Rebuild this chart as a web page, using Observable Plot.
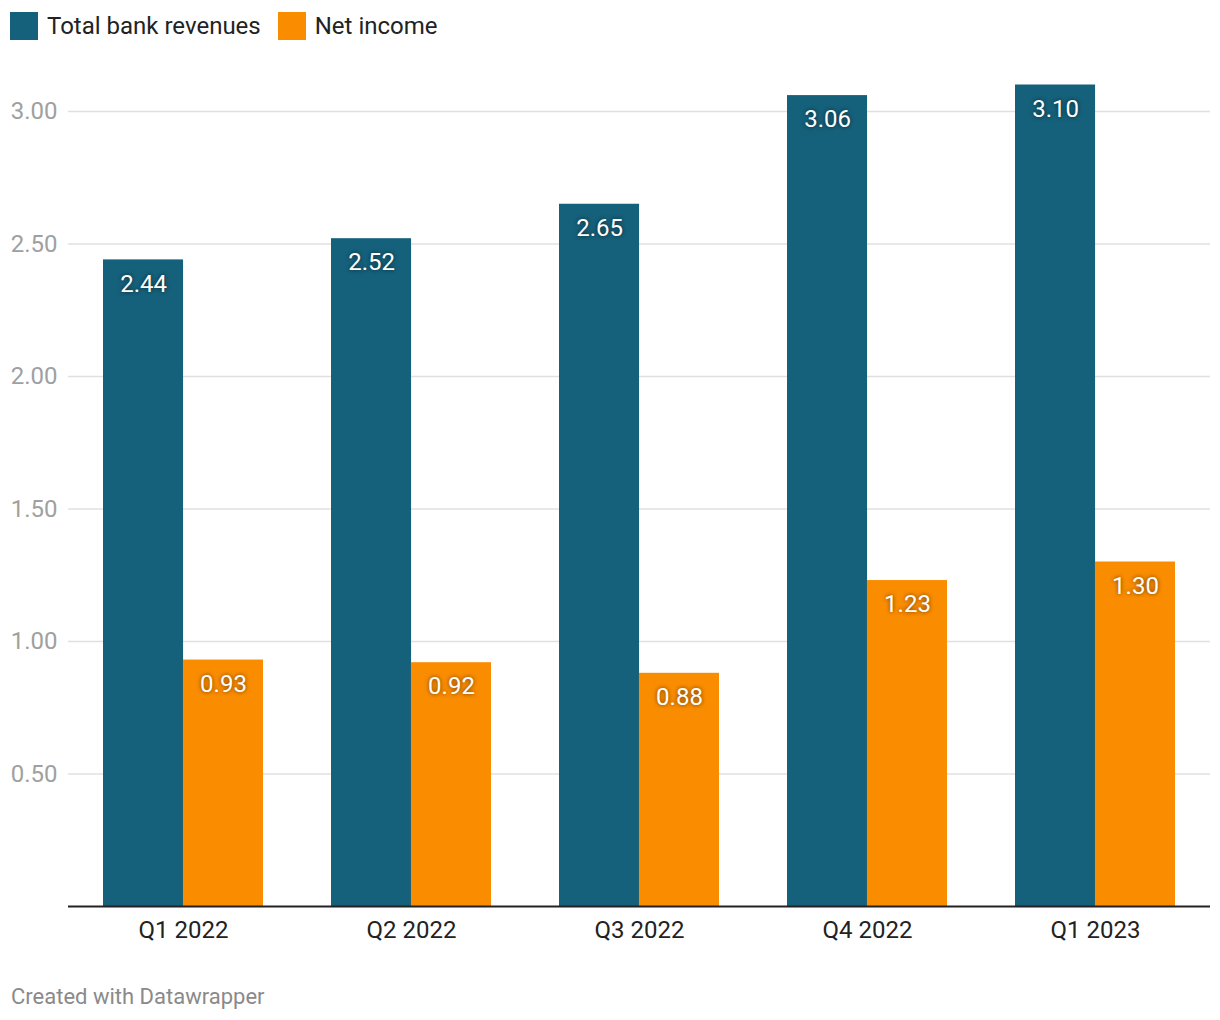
<!DOCTYPE html>
<html><head><meta charset="utf-8">
<script src="https://cdn.jsdelivr.net/npm/d3@7"></script>
<script src="https://cdn.jsdelivr.net/npm/@observablehq/plot@0.6"></script>
<style>
body{margin:0;background:#fff;font-family:Roboto,sans-serif;}
#wrap{position:relative;width:1220px;height:1020px;overflow:hidden;}
#legend{position:absolute;left:10px;top:12px;display:flex;align-items:center;font-size:24px;color:#222;line-height:28px;}
.sw{width:28px;height:28px;display:inline-block;margin-right:9px;}
.item{display:flex;align-items:center;margin-right:17px;}
#chart{position:absolute;left:0;top:50px;}
#footer{position:absolute;left:11px;top:984px;font-size:22px;line-height:26px;color:#8a8a8a;}
g[fill="white"] text{ text-shadow: 0 0 4px rgba(0,0,0,0.6); }
</style></head>
<body><div id="wrap"><div id="legend"></div><div id="chart"></div><div id="footer">Created with Datawrapper</div></div>
<script>
const quarters = ["Q1 2022","Q2 2022","Q3 2022","Q4 2022","Q1 2023"];
const revenues = [2.44, 2.52, 2.65, 3.06, 3.10];
const netIncome = [0.93, 0.92, 0.88, 1.23, 1.30];
const seriesNames = ["Total bank revenues","Net income"];
const seriesColors = ["#15607a","#fa8c00"];
const yTicks = [0.5, 1.0, 1.5, 2.0, 2.5, 3.0];

const revData = quarters.map((q,i)=>({quarter:q, value:revenues[i]}));
const netData = quarters.map((q,i)=>({quarter:q, value:netIncome[i]}));

// legend
const leg = document.getElementById("legend");
seriesNames.forEach((n,i)=>{
  const it = document.createElement("div"); it.className="item";
  it.innerHTML = `<span class="sw" style="background:${seriesColors[i]}"></span><span>${n}</span>`;
  leg.appendChild(it);
});

const W = 1220, mL = 68, mR = 10;
const pInner = 0.3, pOuter = 0.15;
const step = (W - mL - mR) / (quarters.length - pInner + 2*pOuter);
const half = step * (1 - pInner) / 2;

const chart = Plot.plot({
  width: W, height: 900,
  marginLeft: mL, marginRight: mR, marginTop: 0, marginBottom: 44,
  style: {fontFamily: "Roboto, sans-serif", background: "#fff"},
  x: {domain: quarters, paddingInner: pInner, paddingOuter: pOuter, label: null},
  y: {domain: [0, 3], range: [856, 61], label: null},
  marks: [
    Plot.gridY(yTicks, {stroke: "#e0e0e0", strokeOpacity: 1, strokeWidth: 1.5}),
    Plot.axisY(yTicks, {tickSize: 0, tickPadding: 11, fontSize: 24, fill: "#a0a0a0", tickFormat: d => d.toFixed(2), label: null}),
    Plot.axisX({tickSize: 0, tickPadding: 14, fontSize: 24, fill: "#222", label: null}),
    Plot.barY(revData, {x: "quarter", y: "value", fill: seriesColors[0], insetRight: half}),
    Plot.barY(netData, {x: "quarter", y: "value", fill: seriesColors[1], insetLeft: half}),
    Plot.ruleY([0], {stroke: "#222", strokeWidth: 2}),
    Plot.text(revData, {x: "quarter", y: "value", text: d => d.value.toFixed(2), dx: -half/2, dy: 24, fill: "white", fontSize: 24, lineAnchor: "middle"}),
    Plot.text(netData, {x: "quarter", y: "value", text: d => d.value.toFixed(2), dx: half/2, dy: 24, fill: "white", fontSize: 24, lineAnchor: "middle"})
  ]
});
document.getElementById("chart").appendChild(chart);
</script></body></html>
